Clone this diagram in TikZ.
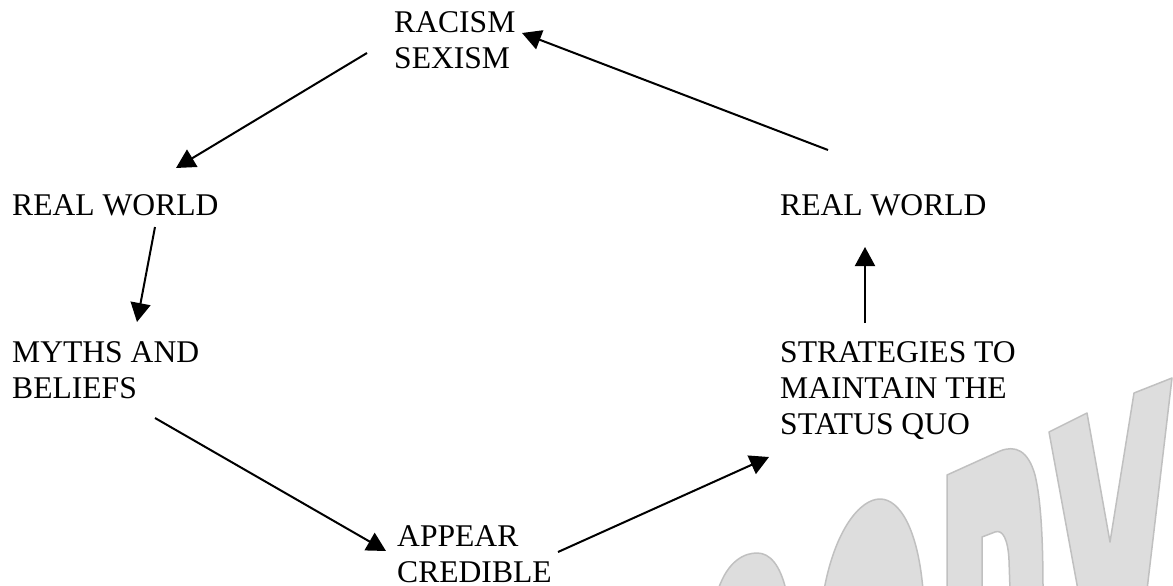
\documentclass[tikz,border=0pt]{standalone}
\usepackage{fontspec}
\setmainfont{Liberation Serif}
\usetikzlibrary{arrows.meta}
\definecolor{wmfill}{RGB}{221,221,221}
\definecolor{wmline}{RGB}{192,192,192}
\tikzset{
  lbl/.style={anchor=base west,inner sep=0pt,align=left,font=\fontsize{31.6}{36}\selectfont},
  conn/.style={line width=2pt,-{Triangle[length=19pt,width=20pt]}},
  wm/.style={fill=wmfill,draw=wmline,line width=1.5pt,line join=round}
}
\begin{document}
\begin{tikzpicture}[x=1pt,y=-1pt]
\useasboundingbox (0,0) rectangle (1173,586);
% watermark
\begin{scope}
\clip (0,0) rectangle (1173,586);
\path[wm] (718,590) .. controls (728,560) and (745,553) .. (757,553) .. controls (770,553) and (780,565) .. (786,590) -- cycle;
\path[wm] (824,590) .. controls (835,530) and (860,499) .. (880,499) .. controls (900,499) and (918,530) .. (923,590) -- cycle;
\path[wm,even odd rule] (947,590) -- (947,475) -- (1000,451) .. controls (1015,445) and (1028,450) .. (1035,475) .. controls (1041,500) and (1043,540) .. (1043,590) -- cycle
  (982,590) -- (982,537) -- (995,532) .. controls (1003,529) and (1008,540) .. (1009,560) -- (1010,590) -- cycle;
\path[wm] (1049,432) -- (1087,413) -- (1110,542) -- (1134,393) -- (1172,378) -- (1147,590) -- (1078,590) -- cycle;
\end{scope}
% labels (anchor at the baseline of the last line)
\node[lbl] (racism) at (394,69) {RACISM\\SEXISM};
\node[lbl] (rwl) at (12,215) {REAL WORLD};
\node[lbl] (myths) at (12,398) {MYTHS AND\\BELIEFS};
\node[lbl] (appear) at (397,582) {APPEAR\\CREDIBLE};
\node[lbl] (strat) at (780,434) {STRATEGIES TO\\MAINTAIN THE\\STATUS QUO};
\node[lbl] (rwr) at (780,215) {REAL WORLD};
% connector ends
\coordinate (a1) at (367,53);  \coordinate (a2) at (176,168);
\coordinate (b1) at (155,227); \coordinate (b2) at (137,322);
\coordinate (c1) at (155,418); \coordinate (c2) at (386,551);
\coordinate (d1) at (558,552); \coordinate (d2) at (769,457);
\coordinate (e1) at (865,323); \coordinate (e2) at (865,247);
\coordinate (f1) at (828,150); \coordinate (f2) at (522,33);
\draw[conn] (a1) -- (a2);
\draw[conn] (b1) -- (b2);
\draw[conn] (c1) -- (c2);
\draw[conn] (d1) -- (d2);
\draw[conn] (e1) -- (e2);
\draw[conn] (f1) -- (f2);
\end{tikzpicture}
\end{document}
